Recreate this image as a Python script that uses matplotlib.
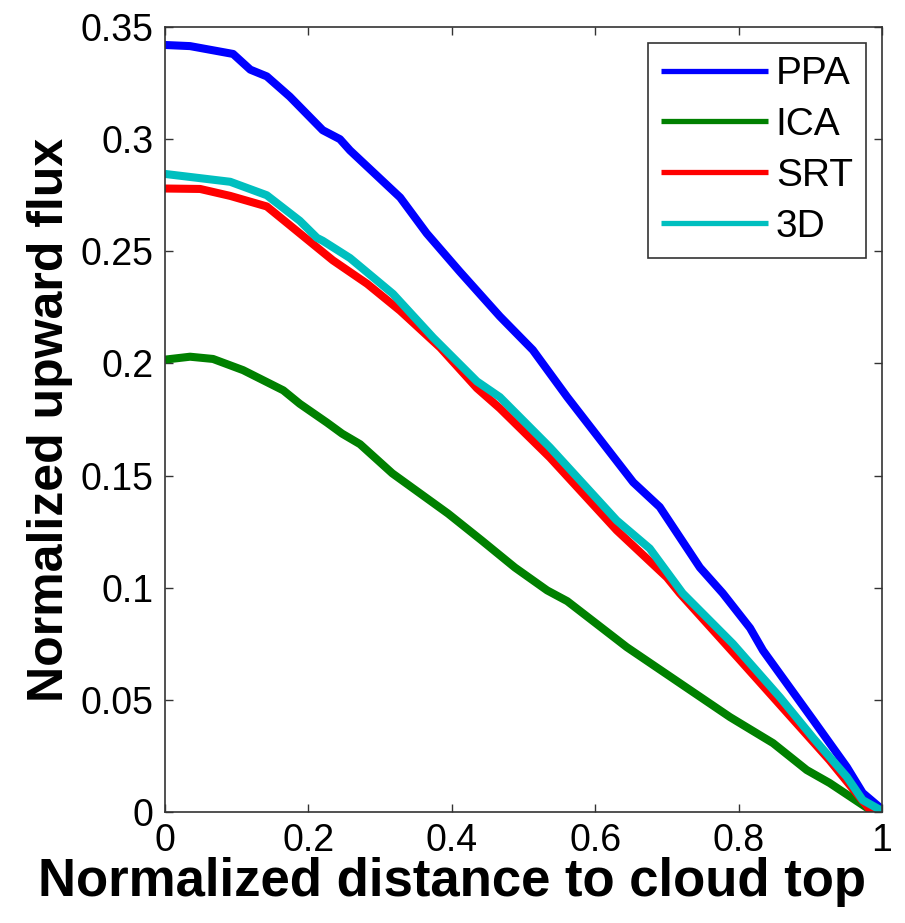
import numpy as np
import matplotlib.pyplot as plt

plt.rcParams['font.family'] = ['Liberation Sans', 'DejaVu Sans']

# distance to cloud top (normalized) and upward flux for each method
x_ppa = [0, 0.035, 0.095, 0.119, 0.142, 0.174, 0.220, 0.244, 0.258, 0.328, 0.365, 0.411,
         0.467, 0.513, 0.561, 0.607, 0.653, 0.690, 0.746, 0.778, 0.816, 0.834, 0.904,
         0.951, 0.973, 0.997, 1.0]
y_ppa = [0.342, 0.3415, 0.338, 0.331, 0.328, 0.319, 0.304, 0.300, 0.295, 0.274, 0.258, 0.241,
         0.221, 0.206, 0.185, 0.166, 0.147, 0.136, 0.109, 0.0975, 0.082, 0.072, 0.041,
         0.020, 0.0085, 0.002, 0.001]

x_ica = [0, 0.035, 0.067, 0.109, 0.165, 0.188, 0.226, 0.247, 0.272, 0.317, 0.395, 0.442,
         0.488, 0.533, 0.561, 0.644, 0.788, 0.848, 0.895, 0.927, 0.983, 1.0]
y_ica = [0.2017, 0.203, 0.202, 0.197, 0.188, 0.182, 0.1736, 0.1687, 0.164, 0.151, 0.133, 0.121,
         0.109, 0.0988, 0.094, 0.0735, 0.0423, 0.0307, 0.0187, 0.0129, 0.001, 0.0]

x_srt = [0, 0.049, 0.091, 0.142, 0.188, 0.234, 0.282, 0.328, 0.384, 0.435, 0.467, 0.537,
         0.630, 0.700, 0.718, 0.802, 0.927, 0.983, 1.0]
y_srt = [0.278, 0.2778, 0.2747, 0.270, 0.258, 0.246, 0.2355, 0.2235, 0.207, 0.189, 0.180, 0.158,
         0.1256, 0.1046, 0.0975, 0.0677, 0.023, 0.001, 0.0]

x_3d = [0, 0.091, 0.142, 0.188, 0.212, 0.220, 0.258, 0.318, 0.374, 0.435, 0.467, 0.537,
        0.630, 0.676, 0.722, 0.792, 0.858, 0.904, 0.951, 0.973, 0.997, 1.0]
y_3d = [0.2845, 0.281, 0.275, 0.2636, 0.256, 0.2547, 0.247, 0.231, 0.2115, 0.192, 0.185, 0.1625,
        0.130, 0.1175, 0.0975, 0.075, 0.051, 0.033, 0.0156, 0.0053, 0.001, 0.0]

labels = ['PPA', 'ICA', 'SRT', '3D']
colors = ['#0000ff', '#008000', '#ff0000', '#00bfbf']

fig = plt.figure(figsize=(9.05, 9.23), dpi=100)
ax = fig.add_axes([0.1823, 0.1203, 0.7923, 0.8504])

series = [(x_ppa, y_ppa), (x_ica, y_ica), (x_srt, y_srt), (x_3d, y_3d)]
for (xs, ys), lab, c in zip(series, labels, colors):
    ax.plot(xs, ys, color=c, lw=5.8, label=lab, solid_capstyle='butt')

ax.set_xlim(0, 1)
ax.set_ylim(0, 0.35)
ax.set_xticks([0, 0.2, 0.4, 0.6, 0.8, 1])
ax.set_xticklabels(['0', '0.2', '0.4', '0.6', '0.8', '1'])
ax.set_yticks([0, 0.05, 0.1, 0.15, 0.2, 0.25, 0.3, 0.35])
ax.set_yticklabels(['0', '0.05', '0.1', '0.15', '0.2', '0.25', '0.3', '0.35'])
ax.tick_params(direction='in', top=True, right=True, length=6, width=1,
               labelsize=27, pad=8, color='#333333')
for s in ax.spines.values():
    s.set_color('#333333')
    s.set_linewidth(1.2)

# x label is centred on the figure, not the axes, as in the original
ax.set_xlabel('Normalized distance to cloud top', fontsize=38, fontweight='bold')
ax.xaxis.set_label_coords(0.40, -0.058)
ax.set_ylabel('Normalized upward flux', fontsize=36, fontweight='bold', labelpad=6)

leg = ax.legend(loc='upper right', fontsize=28, fancybox=False, edgecolor='#333333',
                handlelength=2.75, handletextpad=0.2, labelspacing=0.38,
                borderaxespad=0.4, borderpad=0.35, framealpha=1)
leg.get_frame().set_linewidth(1.2)
for l in leg.get_lines():
    l.set_linewidth(3.8)

fig.savefig('out.png', dpi=100)
